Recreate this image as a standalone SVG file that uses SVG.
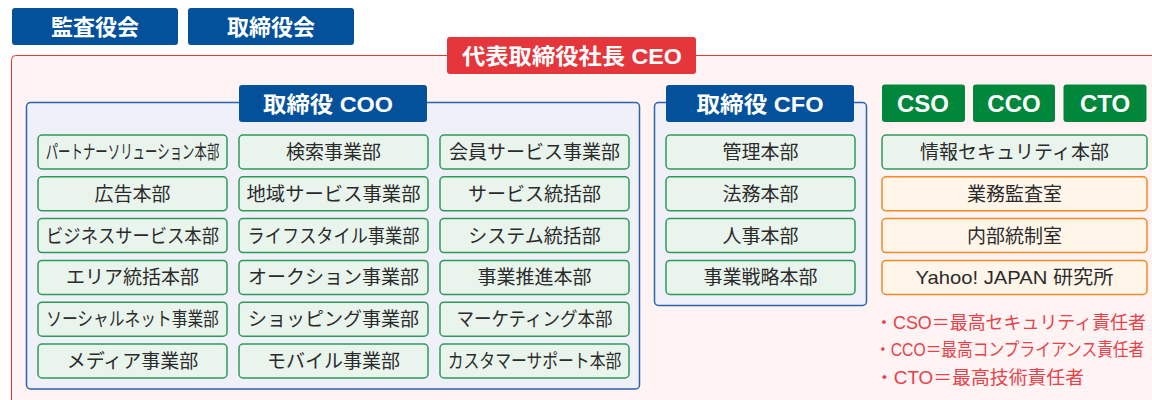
<svg xmlns="http://www.w3.org/2000/svg" width="1152" height="400" viewBox="0 0 1152 400">
<style>
text{font-family:"Liberation Sans","Noto Sans CJK JP",sans-serif;text-anchor:middle}
.hb{fill:#03519b}
.hr{fill:#e5363c}
.hg{fill:#00873c}
.ht{fill:#fff;font-weight:bold;font-size:22px}
.hl{fill:#fff;font-weight:bold;font-size:24px}
.bx{fill:#e9f4ec;stroke:#2e9a5a;stroke-width:1.5}
.ob{fill:#fff5e9;stroke:#f08a24;stroke-width:1.5}
.pn{fill:#eff0f8;stroke:#2d62ac;stroke-width:1.5}
.bt{fill:#2b2b2b;font-size:19px;font-family:"Noto Sans CJK JP","Liberation Sans",sans-serif}
.nt{fill:#e8414a;font-size:18px;text-anchor:start}
</style>
<rect width="1152" height="400" fill="#ffffff"/>
<g id="kansayakukai"><rect class="hb" x="12" y="8" width="166" height="37" rx="3"/><text class="ht" x="95" y="34.5">監査役会</text></g>
<g id="torishimariyakukai"><rect class="hb" x="188" y="8" width="166" height="37" rx="3"/><text class="ht" x="271" y="34.5">取締役会</text></g>
<g id="ceo-area">
<rect x="11.5" y="55.5" width="1160" height="360" rx="4" fill="#fff4f3" stroke="#e53935" stroke-width="1"/>
</g>
<g id="ceo"><rect class="hr" x="447" y="37" width="249" height="37" rx="3"/><text class="ht" x="572" y="63.5" textLength="220" lengthAdjust="spacingAndGlyphs">代表取締役社長 CEO</text></g>
<g id="coo">
<rect class="pn" x="26.5" y="102.5" width="613" height="286.5" rx="4"/>
<rect class="hb" x="239" y="85" width="188" height="37" rx="3"/>
<text class="ht" x="328" y="111.5" textLength="130" lengthAdjust="spacingAndGlyphs">取締役 COO</text>
</g>
<g id="coo-col1">
<rect class="bx" x="38" y="135" width="189" height="34" rx="4"/><text class="bt" transform="translate(132.5,159) scale(0.654,1)" x="0" y="0">パートナーソリューション本部</text>
<rect class="bx" x="38" y="176.8" width="189" height="34" rx="4"/><text class="bt" x="132.5" y="200.8">広告本部</text>
<rect class="bx" x="38" y="218.6" width="189" height="34" rx="4"/><text class="bt" transform="translate(132.5,242.6) scale(0.91,1)" x="0" y="0">ビジネスサービス本部</text>
<rect class="bx" x="38" y="260.4" width="189" height="34" rx="4"/><text class="bt" x="132.5" y="284.4">エリア統括本部</text>
<rect class="bx" x="38" y="302.2" width="189" height="34" rx="4"/><text class="bt" transform="translate(132.5,326.2) scale(0.828,1)" x="0" y="0">ソーシャルネット事業部</text>
<rect class="bx" x="38" y="344" width="189" height="34" rx="4"/><text class="bt" x="132.5" y="368">メディア事業部</text>
</g>
<g id="coo-col2">
<rect class="bx" x="239" y="135" width="189" height="34" rx="4"/><text class="bt" x="333.5" y="159">検索事業部</text>
<rect class="bx" x="239" y="176.8" width="189" height="34" rx="4"/><text class="bt" x="333.5" y="200.8" textLength="174" lengthAdjust="spacingAndGlyphs">地域サービス事業部</text>
<rect class="bx" x="239" y="218.6" width="189" height="34" rx="4"/><text class="bt" transform="translate(333.5,242.6) scale(0.905,1)" x="0" y="0">ライフスタイル事業部</text>
<rect class="bx" x="239" y="260.4" width="189" height="34" rx="4"/><text class="bt" x="333.5" y="284.4">オークション事業部</text>
<rect class="bx" x="239" y="302.2" width="189" height="34" rx="4"/><text class="bt" x="333.5" y="326.2">ショッピング事業部</text>
<rect class="bx" x="239" y="344" width="189" height="34" rx="4"/><text class="bt" x="333.5" y="368">モバイル事業部</text>
</g>
<g id="coo-col3">
<rect class="bx" x="440" y="135" width="189" height="34" rx="4"/><text class="bt" x="534.5" y="159">会員サービス事業部</text>
<rect class="bx" x="440" y="176.8" width="189" height="34" rx="4"/><text class="bt" x="534.5" y="200.8">サービス統括部</text>
<rect class="bx" x="440" y="218.6" width="189" height="34" rx="4"/><text class="bt" x="534.5" y="242.6">システム統括部</text>
<rect class="bx" x="440" y="260.4" width="189" height="34" rx="4"/><text class="bt" x="534.5" y="284.4">事業推進本部</text>
<rect class="bx" x="440" y="302.2" width="189" height="34" rx="4"/><text class="bt" x="534.5" y="326.2" textLength="156" lengthAdjust="spacingAndGlyphs">マーケティング本部</text>
<rect class="bx" x="440" y="344" width="189" height="34" rx="4"/><text class="bt" transform="translate(534.5,368) scale(0.833,1)" x="0" y="0">カスタマーサポート本部</text>
</g>
<g id="cfo">
<rect class="pn" x="654.5" y="102.5" width="212" height="203" rx="4"/>
<rect class="hb" x="666" y="85" width="188" height="37" rx="3"/>
<text class="ht" x="760" y="111.5" textLength="127" lengthAdjust="spacingAndGlyphs">取締役 CFO</text>
<rect class="bx" x="666" y="135" width="189" height="34" rx="4"/><text class="bt" x="760.5" y="159">管理本部</text>
<rect class="bx" x="666" y="176.8" width="189" height="34" rx="4"/><text class="bt" x="760.5" y="200.8">法務本部</text>
<rect class="bx" x="666" y="218.6" width="189" height="34" rx="4"/><text class="bt" x="760.5" y="242.6">人事本部</text>
<rect class="bx" x="666" y="260.4" width="189" height="34" rx="4"/><text class="bt" x="760.5" y="284.4">事業戦略本部</text>
</g>
<g id="cso"><rect class="hg" x="882" y="84.5" width="83" height="37.5" rx="3"/><text class="hl" x="923" y="112">CSO</text></g>
<g id="cco"><rect class="hg" x="973" y="84.5" width="82" height="37.5" rx="3"/><text class="hl" x="1014" y="112">CCO</text></g>
<g id="cto"><rect class="hg" x="1063.5" y="84.5" width="83" height="37.5" rx="3"/><text class="hl" x="1105" y="112">CTO</text></g>
<g id="right-col">
<rect class="bx" x="882" y="135" width="265" height="34" rx="4"/><text class="bt" x="1014.5" y="159">情報セキュリティ本部</text>
<rect class="ob" x="882" y="176.8" width="265" height="34" rx="4"/><text class="bt" x="1014.5" y="200.8">業務監査室</text>
<rect class="ob" x="882" y="218.6" width="265" height="34" rx="4"/><text class="bt" x="1014.5" y="242.6">内部統制室</text>
<rect class="ob" x="882" y="260.4" width="265" height="34" rx="4"/><text class="bt" x="1014.5" y="284.4" textLength="198" lengthAdjust="spacingAndGlyphs" style="font-family:'Liberation Sans','Noto Sans CJK JP',sans-serif">Yahoo! JAPAN 研究所</text>
</g>
<g id="notes">
<text class="nt" x="875" y="328.5" textLength="271" lengthAdjust="spacingAndGlyphs">・CSO＝最高セキュリティ責任者</text>
<text class="nt" transform="translate(875,356) scale(0.874,1)" x="0" y="0">・CCO＝最高コンプライアンス責任者</text>
<text class="nt" x="875" y="384" textLength="209" lengthAdjust="spacingAndGlyphs">・CTO＝最高技術責任者</text>
</g>
</svg>
